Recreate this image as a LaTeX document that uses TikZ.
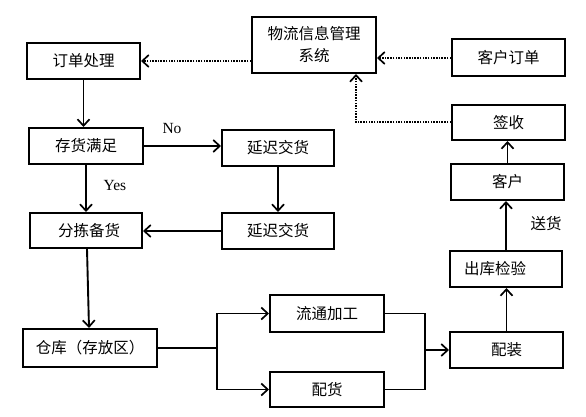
\documentclass[tikz,border=0pt]{standalone}
\usepackage{fontspec}
\setmainfont{Liberation Serif}
\newfontfamily\cjk{Noto Sans CJK SC}
\usetikzlibrary{arrows.meta}
\begin{document}
\begin{tikzpicture}[x=1pt,y=-1pt,
  box/.style={draw, line width=2pt, inner sep=0pt, align=center,
    font=\cjk\fontsize{15.5}{22}\selectfont},
  arr/.style={line width=1.9pt, -{Straight Barb[length=6.5pt,width=12pt,line width=1.7pt]}},
  dotarr/.style={line width=2pt, dash pattern=on 1.5pt off 1.2pt,
    -{Straight Barb[length=6.5pt,width=12pt,line width=1.7pt]}},
  ln/.style={line width=1.9pt},
  lab/.style={font=\fontsize{15.5}{18}\selectfont, inner sep=0pt},
  clab/.style={font=\cjk\fontsize{15.5}{18}\selectfont, inner sep=0pt}]
\useasboundingbox (0,0) rectangle (586,417);
% boxes
\node[box, minimum width=124, minimum height=56] (wl) at (314,45) {物流信息管理\\系统};
\node[box, minimum width=113, minimum height=36] (dd) at (83.5,61) {订单处理};
\node[box, minimum width=113, minimum height=37] (kd) at (508.5,58) {客户订单};
\node[box, minimum width=113, minimum height=35] (qs) at (508.5,122.5) {签收};
\node[box, minimum width=114, minimum height=36] (ch) at (86,146) {存货满足};
\node[box, minimum width=112, minimum height=36] (yc1) at (278,148) {延迟交货};
\node[box, minimum width=113, minimum height=36] (kh) at (507.5,182) {客户};
\node[box, minimum width=112, minimum height=35] (fj) at (86,230.5) {\hspace{6pt}分拣备货};
\node[box, minimum width=112, minimum height=36] (yc2) at (278,231) {延迟交货};
\node[box, minimum width=112, minimum height=36] (ck) at (506,269) {出库检验\hspace{22pt}};
\node[box, minimum width=134, minimum height=38] (ckq) at (90,348) {仓库（存放区）};
\node[box, minimum width=114, minimum height=37] (lt) at (327,313.5) {流通加工};
\node[box, minimum width=114, minimum height=35] (ph) at (327,389.5) {配货};
\node[box, minimum width=113, minimum height=36] (pz) at (506.5,350) {配装};
% labels
\node[lab] (no) at (172,129) {No};
\node[lab] (yes) at (115,185) {Yes};
\node[clab] (sh) at (546,224) {送货};
% dotted connectors
\draw[dotarr] (dd.east -| wl.west) -- (dd.east);
\draw[dotarr] (kd.west) -- (kd.west -| wl.east);
\draw[dotarr] (qs.west) -| ([xshift=42pt]wl.south);
% solid connectors
\draw[arr] (dd.south) -- (dd.south |- ch.north);
\draw[arr] (ch.east) -- (ch.east -| yc1.west);
\draw[arr] (ch.south) -- (ch.south |- fj.north);
\draw[arr] (yc1.south) -- (yc2.north);
\draw[arr] (yc2.west) -- (yc2.west -| fj.east);
\draw[arr] ([xshift=1pt]fj.south) -- ([xshift=-1pt]ckq.north);
\coordinate (jL) at (217,348);
\coordinate (jR) at (425,350);
\draw[ln] (ckq.east) -- (jL);
\draw[arr] (jL) |- (lt.west);
\draw[arr] (jL) |- (ph.west);
\draw[ln] (lt.east) -| (jR);
\draw[ln] (ph.east) -| (jR);
\draw[arr] (jR) -- (pz.west);
\draw[arr] (pz.north) -- (pz.north |- ck.south);
\draw[arr] (ck.north) -- (ck.north |- kh.south);
\draw[arr] (kh.north) -- (kh.north |- qs.south);
\end{tikzpicture}
\end{document}
